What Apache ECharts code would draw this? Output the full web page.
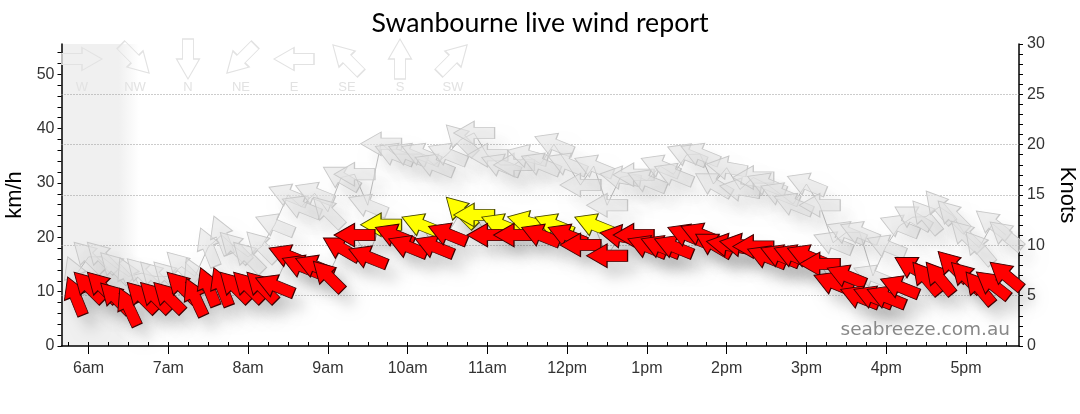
<!DOCTYPE html>
<html><head><meta charset="utf-8">
<style>html,body{margin:0;padding:0;background:#fff}#c{width:1080px;height:414px}</style>
<script src="https://cdn.jsdelivr.net/npm/echarts@6/dist/echarts.min.js"></script>
</head><body><div id="c"></div>
<script>
const times = ["5:50","6:00","6:10","6:20","6:30","6:40","6:50","7:00","7:10","7:20","7:30","7:40","7:50","8:00","8:10","8:20","8:30","8:40","8:50","9:00","9:10","9:20","9:30","9:40","9:50","10:00","10:10","10:20","10:30","10:40","10:50","11:00","11:10","11:20","11:30","11:40","11:50","12:00","12:10","12:20","12:30","12:40","12:50","13:00","13:10","13:20","13:30","13:40","13:50","14:00","14:10","14:20","14:30","14:40","14:50","15:00","15:10","15:20","15:30","15:40","15:50","16:00","16:10","16:20","16:30","16:40","16:50","17:00","17:10","17:20","17:30"];
const windKmh = [9.2,10.9,10.9,8.9,7.2,9.0,9.0,9.0,10.9,9.0,10.9,10.9,10.9,10.9,10.9,11.1,16.6,14.7,14.7,12.9,18.0,20.4,16.4,22.3,20.4,18.3,22.3,18.3,20.6,24.7,24.1,20.4,22.3,20.4,22.8,20.4,22.3,20.4,18.6,22.3,16.6,20.2,20.4,18.3,18.3,18.3,20.4,20.6,18.7,18.6,18.6,18.3,16.4,16.6,16.6,16.6,15.1,11.6,12.9,9.0,9.0,9.0,10.9,14.4,12.5,12.5,14.7,12.7,10.7,11.3,13.0];
const gustKmh = [12.9,16.4,16.4,14.5,12.8,13.4,12.8,12.8,14.6,12.8,18.2,20.4,18.2,16.4,18.3,22.3,27.8,25.6,28.1,24.7,31.0,31.6,25.9,37.2,35.3,35.3,35.3,33.3,35.3,38.0,39.2,35.1,33.3,33.3,35.0,33.5,37.1,33.5,29.6,33.1,25.9,31.0,31.5,30.4,33.1,31.6,35.2,35.3,29.8,32.8,28.8,31.0,29.8,28.0,26.1,29.8,25.9,19.0,20.9,20.9,12.9,18.4,22.1,23.7,23.8,25.6,24.0,20.3,18.1,22.5,20.4];
const dirDeg = [338,315,315,315,335,315,315,315,315,335,338,338,315,315,315,292,292,292,292,315,300,270,292,270,292,292,292,292,292,315,270,270,292,270,285,292,292,292,270,292,270,280,270,292,292,292,292,292,300,280,280,270,292,292,292,292,270,292,292,292,292,292,292,300,320,320,315,315,320,308,310];
const compass = ["W","NW","N","NE","E","SE","S","SW"];
const compassDeg = [90,135,180,225,270,315,0,45];
const hourTicks = [6,7,8,9,10,11,12,13,14,15,16,17];
const hourLabels = ["6am","7am","8am","9am","10am","11am","12pm","1pm","2pm","3pm","4pm","5pm"];
const kmhTicks = [0,10,20,30,40,50];
const knotTicks = [0,5,10,15,20,25,30];
const yellowFrom = 21.6;
const nightEnd = 6.63;

const ARROW = 'path://M11.5 0L23 20L17 20L17 40L6 40L6 20L0 20Z';
const hours = times.map(s => { const p = s.split(':'); return +p[0] + (+p[1]) / 60; });
const XMIN = 5.66, XMAX = 17.665, KNOT = 1.852, YMAX = 30 * KNOT;
const steps = (from, to, st) => { const a = []; for (let v = from; v <= to + 1e-6; v += st) a.push(+v.toFixed(4)); return a; };
const pts = (vals, keep) => vals.map((v, i) => ({ value: [hours[i], v], symbolRotate: -dirDeg[i] })).filter(d => keep(d.value[1]));
const arrows = (name, vals, keep, style, z) => ({
  type: 'scatter', name, data: pts(vals, keep), symbol: ARROW, symbolSize: [23.5, 41], clip: false,
  xAxisIndex: 0, yAxisIndex: 0, animation: false, silent: true, progressive: 0, z, itemStyle: Object.assign({ opacity: 1 }, style)
});
const shadow = (c) => ({ shadowColor: c, shadowBlur: 14, shadowOffsetX: 10, shadowOffsetY: 13 });
const line = (name, vals, extra) => Object.assign({
  type: 'line', name, data: vals.map((v, i) => [hours[i], v]), showSymbol: false, silent: true, animation: false,
  lineStyle: { color: 'rgba(150,150,150,0.6)', width: 1 }, xAxisIndex: 0, yAxisIndex: 0
}, extra || {});
const txt = { color: '#333', fontSize: 16, fontFamily: 'Liberation Sans' };

const chart = echarts.init(document.getElementById('c'), null, { renderer: 'canvas' });
chart.setOption({
  animation: false, backgroundColor: '#fff',
  title: { text: 'Swanbourne live wind report', left: 535, textAlign: 'center', top: 5,
    textStyle: { fontFamily: 'Lato', fontWeight: 'normal', fontSize: 26.7, color: '#000' } },
  grid: [
    { left: 61.5, right: 61, top: 44, bottom: 68, outerBoundsMode: 'none' },
    { left: 55.5, width: 424, top: 44, height: 30, outerBoundsMode: 'none' }
  ],
  xAxis: [
    { type: 'value', gridIndex: 0, min: XMIN, max: XMAX, splitLine: { show: false },
      axisLine: { onZero: false, lineStyle: { color: '#000', width: 1.5 } },
      axisTick: { length: 8, customValues: hourTicks, lineStyle: { color: '#000' } },
      axisLabel: Object.assign({ customValues: hourTicks, margin: 15, hideOverlap: false,
        formatter: v => hourLabels[hourTicks.indexOf(v)] }, txt) },
    { type: 'value', gridIndex: 0, min: XMIN, max: XMAX, splitLine: { show: false },
      axisLine: { show: false }, axisLabel: { show: false },
      axisTick: { length: 4, customValues: steps(5.75, 17.5, 0.25), lineStyle: { color: '#000' } } },
    { type: 'category', gridIndex: 1, data: compass, z: 6, axisLine: { show: false }, axisTick: { show: false },
      splitLine: { show: false },
      axisLabel: { interval: 0, margin: 7, color: '#e2e2e2', fontSize: 13, fontFamily: 'Liberation Sans' } }
  ],
  yAxis: [
    { type: 'value', gridIndex: 0, min: 0, max: YMAX, position: 'left', name: 'km/h', nameLocation: 'middle', nameGap: 36,
      nameTextStyle: { color: '#000', fontSize: 22, fontFamily: 'Liberation Sans' },
      splitLine: { show: false },
      axisLine: { show: true, onZero: false, lineStyle: { color: '#000', width: 1.5 } },
      axisTick: { show: true, length: 4, customValues: steps(0, 54, 2), lineStyle: { color: '#000' } },
      axisLabel: Object.assign({ customValues: kmhTicks, margin: 7 }, txt) },
    { type: 'value', gridIndex: 0, min: 0, max: 30, position: 'right', name: 'Knots', nameLocation: 'middle', nameGap: 35, nameRotate: -90,
      nameTextStyle: { color: '#000', fontSize: 22, fontFamily: 'Liberation Sans' },
      splitLine: { show: false },
      axisLine: { show: true, onZero: false, lineStyle: { color: '#000', width: 1.5 } },
      axisTick: { show: true, length: 4, customValues: steps(0, 30, 1), lineStyle: { color: '#000' } },
      axisLabel: Object.assign({ customValues: knotTicks, margin: 8 }, txt) },
    { type: 'value', gridIndex: 1, min: 0, max: 1, show: false },
    { type: 'value', gridIndex: 0, min: 0, max: 30, interval: 5, position: 'right', z: 1,
      axisLine: { show: false }, axisTick: { show: false }, axisLabel: { show: false },
      splitLine: { show: true, showMinLine: false, showMaxLine: false, lineStyle: { type: [1, 2], color: '#999', width: 1 } } }
  ],
  series: [
    line('gust line', gustKmh, {
      z: 2,
      markArea: { silent: true, z: 0, itemStyle: { opacity: 1, color: new echarts.graphic.LinearGradient(0, 0, 1, 0, [
        { offset: 0, color: '#f0f0f0' }, { offset: 0.74, color: '#f0f0f0' }, { offset: 1, color: '#ffffff' }]) },
        data: [[{ xAxis: XMIN, yAxis: 0 }, { xAxis: nightEnd, yAxis: YMAX }]] }
    }),
    { type: 'scatter', name: 'legend', xAxisIndex: 2, yAxisIndex: 2, z: 2, silent: true, clip: false,
      symbol: ARROW, symbolSize: [23, 40], animation: false,
      data: compass.map((c, i) => ({ value: [c, 0.5], symbolRotate: -compassDeg[i] })),
      itemStyle: { opacity: 1, color: 'rgba(255,255,255,0)', borderColor: '#e2e2e2', borderWidth: 1.2 } },
    arrows('gust', gustKmh, () => true, Object.assign({ color: 'rgba(226,226,226,0.6)', borderColor: '#c8c8c8', borderWidth: 1 }, shadow('rgba(0,0,0,0.09)')), 2),
    line('wind line', windKmh, { z: 3 }),
    arrows('wind shadow', windKmh, () => true, Object.assign({ color: '#ddd', borderWidth: 0 }, shadow('rgba(0,0,0,0.17)')), 3),
    arrows('wind yellow', windKmh, v => v >= yellowFrom, { color: '#ffff00', borderColor: '#4a4a00', borderWidth: 1 }, 3),
    arrows('wind', windKmh, v => v < yellowFrom, { color: '#ff0000', borderColor: '#400000', borderWidth: 1 }, 3)
  ],
  graphic: [{ type: 'text', right: 70, top: 321, z: 10, silent: true,
    style: { text: 'seabreeze.com.au', fill: '#888', font: '18.5px "DejaVu Sans"' } }]
});
</script></body></html>
